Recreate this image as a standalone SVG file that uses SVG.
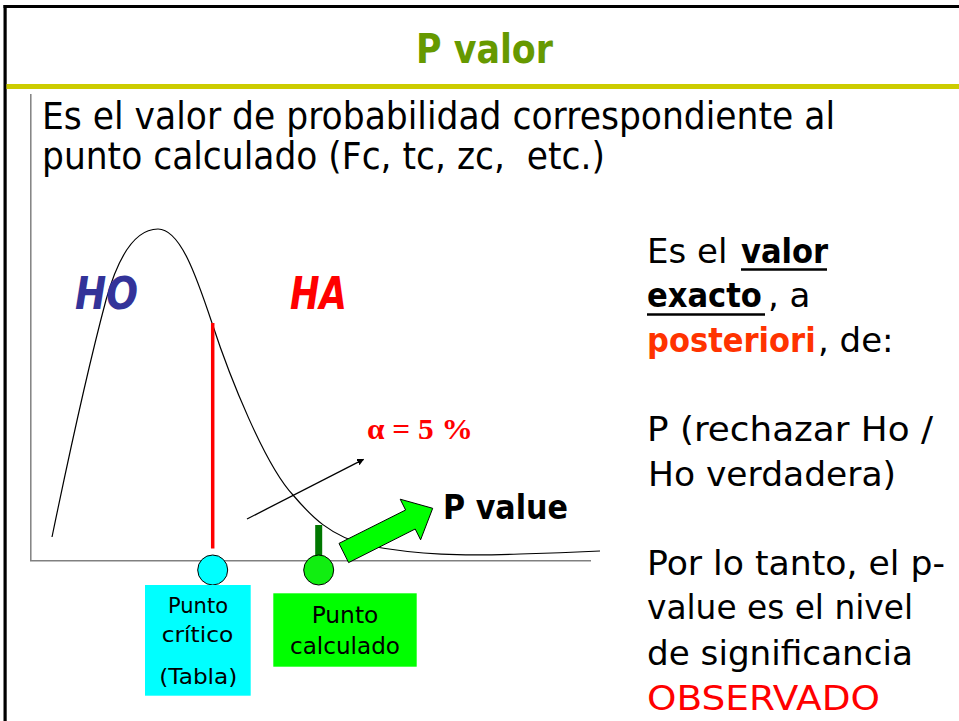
<svg xmlns="http://www.w3.org/2000/svg" width="959" height="721" viewBox="0 0 959 721">
<defs>
<style>
.t{font-family:"DejaVu Sans",sans-serif;fill:#000}
.b{font-weight:bold}
.bc{font-family:"DejaVu Sans Condensed","DejaVu Sans",sans-serif;font-weight:bold}
.r{font-size:34px}
.box{font-size:21px;text-anchor:middle}
.ax{stroke:#808080;stroke-width:1.5;fill:none}
</style>
<marker id="ah" viewBox="0 0 10 10" refX="9" refY="5" markerWidth="7" markerHeight="7" orient="auto" markerUnits="userSpaceOnUse">
<path d="M0,0 L10,5 L0,10 z" fill="#000"/>
</marker>
</defs>
<rect x="0" y="0" width="959" height="721" fill="#fff"/>
<rect x="3.5" y="5" width="955.5" height="3" fill="#000"/>
<rect x="3.5" y="5" width="3.2" height="716" fill="#000"/>
<rect x="6.5" y="84" width="952.5" height="5" fill="#CCCC00"/>
<g id="title">
<text class="t b" x="416" y="63" font-size="40" style="fill:#669900" textLength="137" lengthAdjust="spacingAndGlyphs">P valor</text>
</g>
<g id="intro">
<text class="t" x="42" y="128.5" font-size="37" textLength="793" lengthAdjust="spacingAndGlyphs">Es el valor de probabilidad correspondiente al</text>
<text class="t" x="42" y="168.5" font-size="37" textLength="563" lengthAdjust="spacingAndGlyphs" xml:space="preserve">punto calculado (Fc, tc, zc,  etc.)</text>
</g>
<g id="chart">
<line class="ax" x1="30.8" y1="94" x2="30.8" y2="560.7"/>
<line class="ax" x1="30" y1="560.7" x2="591" y2="560.7"/>
<path d="M52,537 C70,450 90,360 106,300 C120,250 138,229 158,229 C180,229 196,275 212,323 C230,378 265,465 293,495 C310,515 330,537 370,546 C420,555 460,556 520,554 C560,553 580,552 600,551" fill="none" stroke="#000" stroke-width="1.2"/>
<line x1="212.7" y1="323" x2="212.7" y2="548.5" stroke="#FF0000" stroke-width="3.5"/>
<line x1="318.7" y1="525" x2="318.7" y2="556" stroke="#007700" stroke-width="7"/>
</g>
<g id="HO">
<text class="t b" x="75" y="309.3" font-size="44" font-style="italic" style="fill:#333399" textLength="63" lengthAdjust="spacingAndGlyphs">HO</text>
</g>
<g id="HA">
<text class="t b" x="290" y="309.3" font-size="44" font-style="italic" style="fill:#FF0000" textLength="57" lengthAdjust="spacingAndGlyphs">HA</text>
</g>
<g id="alpha">
<text x="367" y="439.3" font-family="'Liberation Serif',serif" font-weight="bold" font-size="30" fill="#FF0000" textLength="106" lengthAdjust="spacingAndGlyphs">α = 5 %</text>
</g>
<g id="punto-critico">
<circle cx="212.7" cy="570" r="15" fill="#00FFFF" stroke="#000" stroke-width="1"/>
<rect x="145" y="585" width="105.7" height="110.7" fill="#00FFFF"/>
<text class="t box" x="198" y="612.7" textLength="60" lengthAdjust="spacingAndGlyphs">Punto</text>
<text class="t box" x="197.5" y="641.7" textLength="71.6" lengthAdjust="spacingAndGlyphs">crítico</text>
<text class="t box" x="198.3" y="684" textLength="78" lengthAdjust="spacingAndGlyphs">(Tabla)</text>
</g>
<g id="punto-calculado">
<circle cx="318.7" cy="570" r="15" fill="#11EE11" stroke="#000" stroke-width="1"/>
<rect x="273.3" y="593.3" width="143.4" height="73.4" fill="#00FF00"/>
<text class="t box" x="345" y="622.7" style="font-size:23px" textLength="66.7" lengthAdjust="spacingAndGlyphs">Punto</text>
<text class="t box" x="345" y="654" style="font-size:23px" textLength="110" lengthAdjust="spacingAndGlyphs">calculado</text>
</g>
<g id="p-value">
<text class="t b" x="443" y="519" font-size="33" textLength="125" lengthAdjust="spacingAndGlyphs">P value</text>
</g>
<g id="connectors">
<line x1="247" y1="519" x2="363.5" y2="459.3" stroke="#000" stroke-width="1.3" marker-end="url(#ah)"/>
<polygon points="339,543.4 405.6,510 400.2,499.2 432.7,508.3 420.6,539.8 415.2,529 348.6,562.6" fill="#00FF00" stroke="#000" stroke-width="1"/>
</g>
<g id="explanation">
<text class="t r" x="647" y="263.3">Es el</text>
<text class="bc r" x="741" y="263.3">valor</text>
<line x1="741" y1="269.5" x2="827" y2="269.5" stroke="#000" stroke-width="2.5"/>
<text class="bc r" x="647" y="307.3">exacto</text>
<line x1="647" y1="314.5" x2="765" y2="314.5" stroke="#000" stroke-width="2.5"/>
<text class="t r" x="768" y="307.3">, a</text>
<text class="bc r" x="647" y="351.7" style="fill:#FF3300">posteriori</text>
<text class="t r" x="818" y="351.7">, de:</text>
<text class="t r" x="647" y="440.7" textLength="286" lengthAdjust="spacingAndGlyphs">P (rechazar Ho /</text>
<text class="t r" x="648" y="486" textLength="248" lengthAdjust="spacingAndGlyphs">Ho verdadera)</text>
<text class="t r" x="647" y="575" textLength="298" lengthAdjust="spacingAndGlyphs">Por lo tanto, el p-</text>
<text class="t r" x="647" y="619.3" textLength="266" lengthAdjust="spacingAndGlyphs">value es el nivel</text>
<text class="t r" x="647" y="665" textLength="266" lengthAdjust="spacingAndGlyphs">de significancia</text>
<text class="t r" x="647" y="710" style="fill:#FF0000" textLength="233" lengthAdjust="spacingAndGlyphs">OBSERVADO</text>
</g>
</svg>
